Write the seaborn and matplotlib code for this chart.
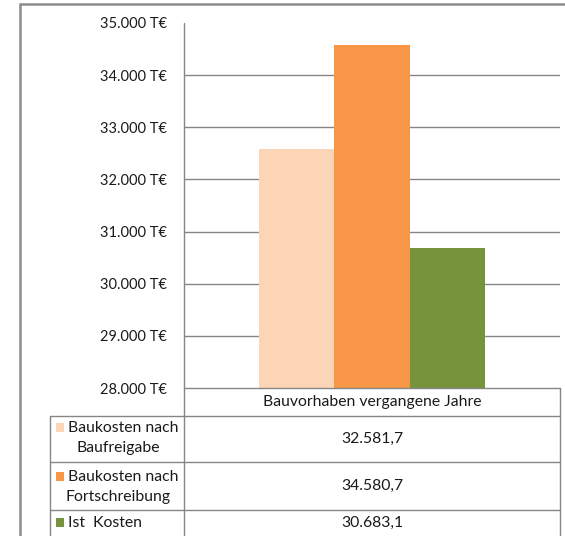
import matplotlib
matplotlib.use("Agg")
import matplotlib.pyplot as plt
from matplotlib.lines import Line2D
from matplotlib.patches import Rectangle
import pandas as pd
import seaborn as sns

# --- data -----------------------------------------------------------------
category = "Bauvorhaben vergangene Jahre"
series = ["Baukosten nach Baufreigabe", "Baukosten nach Fortschreibung", "Ist  Kosten"]
series_lines = [["Baukosten nach", "Baufreigabe"],
                ["Baukosten nach", "Fortschreibung"],
                ["Ist  Kosten"]]
values = [32581.7, 34580.7, 30683.1]
colors = ["#FBD5B5", "#F79646", "#77933C"]
y_ticks = [28000, 29000, 30000, 31000, 32000, 33000, 34000, 35000]

df = pd.DataFrame({"Kategorie": [category] * len(series),
                   "Reihe": series,
                   "Wert": values})

def de_num(v, dec=0):
    s = f"{v:,.{dec}f}"
    return s.replace(",", "X").replace(".", ",").replace("X", ".")

# --- figure ---------------------------------------------------------------
W, H = 565, 536
sns.set_theme(style="white")
plt.rcParams["font.family"] = ["Lato", "DejaVu Sans"]
fig = plt.figure(figsize=(W / 100, H / 100), dpi=100)

def fx(x):
    return x / W

def fy(y):
    return 1 - y / H

ax_l, ax_r, ax_t, ax_b = 184, 560, 23, 388
ax = fig.add_axes([fx(ax_l), fy(ax_b), fx(ax_r) - fx(ax_l), fy(ax_t) - fy(ax_b)])

sns.barplot(data=df, x="Kategorie", y="Wert", hue="Reihe", hue_order=series,
            palette=colors, saturation=1, width=0.6, linewidth=0,
            legend=False, ax=ax)

ax.set_xlim(-0.5, 0.5)
ax.set_ylim(y_ticks[0], y_ticks[-1])
ax.set_yticks(y_ticks)
ax.set_yticklabels([de_num(t) + " T€" for t in y_ticks])
ax.tick_params(axis="y", length=0, pad=12, labelsize=10.5, labelcolor="#1a1a1a")
ax.set_xticks([])
ax.set_xlabel("")
ax.set_ylabel("")
for sp in ax.spines.values():
    sp.set_visible(False)

grid_color = "#868686"
ax.yaxis.grid(True, color=grid_color, linewidth=1)
gl = ax.yaxis.get_gridlines()
gl[0].set_visible(False)
gl[-1].set_visible(False)
ax.set_axisbelow(True)

# --- outer chart frame (extends past the visible canvas) -------------------
fig.patches.append(Rectangle((fx(20), fy(620)), fx(620) - fx(20), fy(4) - fy(620),
                             transform=fig.transFigure, fill=False,
                             edgecolor="#8c8c8c", linewidth=1.8, clip_on=False))

# --- data table -----------------------------------------------------------
def fline(x0, y0, x1, y1):
    fig.lines.append(Line2D([fx(x0), fx(x1)], [fy(y0), fy(y1)],
                            transform=fig.transFigure, color=grid_color, linewidth=1))

t_left, t_div, t_right = 50, ax_l, ax_r
row_edges = [388, 416, 462, 510, 560]
fline(t_div, ax_t, t_div, 560)           # value axis continues through table
fline(t_div, row_edges[0], t_right, row_edges[0])
fline(t_right, row_edges[0], t_right, 560)
fline(t_left, row_edges[1], t_left, 560)
for y in row_edges[1:4]:
    fline(t_left, y, t_right, y)

txt_kw = dict(fontsize=11.3, color="#1a1a1a", va="center")
cx = (t_div + t_right) / 2
fig.text(fx(cx), fy(402), category, ha="center", **txt_kw)

value_y = [439, 486, 523]
for v, yv in zip(values, value_y):
    fig.text(fx(cx), fy(yv), de_num(v, 1), ha="center", **txt_kw)

label_y = [[428, 448], [477, 497], [523]]
for lines, ys, col in zip(series_lines, label_y, colors):
    fig.patches.append(Rectangle((fx(56), fy(ys[0] + 4)), fx(8), fy(0) - fy(9),
                                 transform=fig.transFigure, facecolor=col,
                                 edgecolor="none"))
    fig.text(fx(68), fy(ys[0]), lines[0], ha="left", **txt_kw)
    if len(lines) > 1:
        fig.text(fx(118), fy(ys[1]), lines[1], ha="center", **txt_kw)

fig.savefig("out.png", dpi=100, facecolor="white")
